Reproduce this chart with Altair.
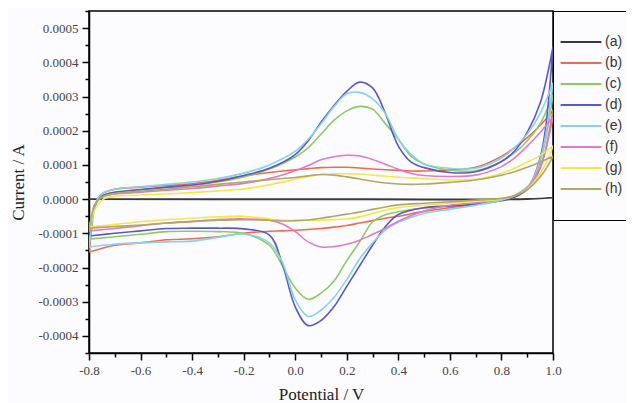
import altair as alt
import pandas as pd

# Potentials (V) of the forward (anodic) and reverse (cathodic) sweeps
X_FWD = [-0.80, -0.79, -0.78, -0.76, -0.74, -0.70, -0.60, -0.50, -0.40, -0.30,
         -0.20, -0.10, 0.00, 0.05, 0.10, 0.15, 0.20, 0.25, 0.30, 0.35,
         0.40, 0.45, 0.50, 0.60, 0.70, 0.80, 0.85, 0.90, 0.95, 1.00]
X_REV = [1.00, 0.97, 0.95, 0.92, 0.90, 0.85, 0.80, 0.70, 0.60, 0.50,
         0.40, 0.35, 0.30, 0.25, 0.20, 0.15, 0.10, 0.05, 0.00, -0.05,
         -0.10, -0.20, -0.30, -0.40, -0.50, -0.60, -0.70, -0.80]

# Currents in units of 1e-5 A
A_X_FWD = [-0.80, 0.00, 0.90, 1.00]
A_FWD = [0.0, 0.0, 0.1, 0.4]
A_X_REV = [1.00, 0.90, 0.00, -0.80]
A_REV = [0.4, 0.0, -0.1, 0.0]

B_FWD = [-15.5, -9.0, -3.0, 0.8, 2.0, 2.9, 3.5, 4.0, 4.5, 5.5,
         6.8, 7.8, 8.6, 8.9, 9.2, 9.3, 9.3, 9.1, 8.8, 8.6,
         8.4, 8.2, 8.2, 8.5, 9.3, 12.5, 15.0, 18.0, 21.5, 26.0]
B_REV = [26.0, 14.0, 9.0, 4.5, 2.8, 0.8, -0.3, -1.5, -2.5, -3.6,
         -5.0, -5.6, -6.3, -7.0, -7.7, -8.2, -8.6, -8.9, -9.1, -9.3,
         -9.4, -10.0, -11.0, -11.6, -11.9, -12.8, -13.5, -15.5]

C_FWD = [-11.7, -7.0, -2.5, 0.3, 1.3, 2.0, 2.7, 3.3, 4.0, 5.0,
         6.5, 8.8, 12.3, 15.0, 19.0, 23.0, 25.8, 27.1, 26.3, 22.0,
         17.5, 12.5, 10.2, 8.5, 8.3, 11.0, 13.5, 17.0, 22.0, 30.5]
C_REV = [30.5, 17.0, 11.0, 5.5, 3.5, 1.0, -0.3, -1.3, -2.0, -2.6,
         -3.7, -4.6, -6.7, -12.5, -18.0, -24.0, -27.5, -29.3, -26.0, -19.5,
         -13.5, -10.0, -9.5, -9.4, -9.5, -10.3, -11.0, -11.7]

D_FWD = [-10.8, -6.5, -2.5, 0.3, 1.3, 2.0, 2.8, 3.5, 4.1, 5.2,
         6.9, 9.0, 13.0, 17.0, 22.5, 27.3, 31.5, 34.2, 32.5, 25.0,
         15.5, 10.8, 9.2, 7.8, 8.0, 11.0, 14.0, 19.5, 28.0, 44.5]
D_REV = [44.5, 20.0, 12.0, 5.5, 3.0, 0.5, -0.5, -1.5, -2.0, -2.5,
         -4.5, -8.0, -13.5, -19.5, -25.5, -31.5, -35.5, -37.0, -31.5, -19.0,
         -10.5, -8.7, -8.5, -8.5, -8.6, -9.3, -10.0, -10.8]

E_FWD = [-14.0, -8.0, -2.5, 0.8, 2.0, 2.9, 3.6, 4.3, 5.0, 6.0,
         7.6, 10.0, 14.0, 17.5, 22.0, 27.0, 30.8, 31.2, 29.3, 25.0,
         17.5, 13.0, 10.3, 9.0, 9.0, 12.0, 15.0, 19.0, 25.0, 34.0]
E_REV = [34.0, 18.0, 11.5, 5.5, 3.5, 1.0, -0.3, -1.8, -3.0, -4.2,
         -6.8, -9.0, -12.8, -17.5, -23.5, -28.8, -32.5, -34.3, -29.5, -18.5,
         -12.8, -10.2, -11.2, -12.3, -12.5, -12.8, -13.2, -14.0]

F_FWD = [-9.3, -5.5, -2.0, 0.0, 0.9, 1.5, 2.0, 2.6, 3.1, 3.8,
         4.6, 6.0, 8.3, 9.8, 11.5, 12.4, 12.8, 12.6, 11.6, 10.2,
         8.7, 7.5, 6.9, 6.6, 7.0, 9.5, 12.0, 15.5, 19.5, 24.0]
F_REV = [24.0, 14.0, 9.5, 5.0, 3.2, 1.0, 0.0, -1.0, -1.8, -3.5,
         -6.5, -8.5, -10.3, -12.0, -13.2, -13.9, -14.0, -12.5, -9.5, -7.3,
         -6.2, -5.8, -6.0, -6.5, -7.0, -7.8, -8.6, -9.3]

G_FWD = [-8.2, -6.0, -3.5, -1.2, 0.2, 0.8, 1.2, 1.5, 1.9, 2.4,
         3.0, 4.2, 5.8, 6.6, 7.2, 7.4, 7.4, 7.3, 7.0, 6.7,
         6.4, 6.2, 6.0, 5.6, 5.8, 7.5, 9.0, 10.8, 12.8, 15.5]
G_REV = [15.5, 10.0, 7.5, 4.5, 3.0, 1.0, 0.0, -0.7, -1.2, -1.8,
         -2.5, -3.2, -4.2, -5.2, -5.8, -6.0, -6.1, -6.2, -6.3, -6.2,
         -5.8, -5.0, -5.2, -5.6, -6.0, -6.6, -7.4, -8.2]

H_FWD = [-8.5, -5.0, -2.0, 0.0, 0.9, 1.6, 2.3, 2.9, 3.6, 4.3,
         5.0, 5.7, 6.3, 6.8, 7.2, 7.0, 6.5, 5.9, 5.2, 4.7,
         4.4, 4.3, 4.4, 4.9, 5.6, 7.0, 8.0, 9.3, 10.8, 12.5]
H_REV = [12.5, 8.5, 6.5, 4.0, 2.8, 1.0, 0.2, -0.3, -0.8, -1.2,
         -1.7, -2.3, -3.0, -3.8, -4.4, -5.0, -5.6, -6.1, -6.3, -6.4,
         -6.2, -6.0, -6.2, -6.6, -7.0, -7.6, -8.0, -8.5]

SERIES = ["(a)", "(b)", "(c)", "(d)", "(e)", "(f)", "(g)", "(h)"]
COLORS = ["#3a3a3a", "#f2694e", "#8ccb62", "#5a58c6", "#86d2ea",
          "#e079c6", "#f3e74e", "#b0a866"]

X_TICKS = [-0.8, -0.7, -0.6, -0.5, -0.4, -0.3, -0.2, -0.1, 0.0, 0.1,
           0.2, 0.3, 0.4, 0.5, 0.6, 0.7, 0.8, 0.9, 1.0]
Y_TICKS = [-0.00045, -0.0004, -0.00035, -0.0003, -0.00025, -0.0002, -0.00015,
           -0.0001, -0.00005, 0.0, 0.00005, 0.0001, 0.00015, 0.0002, 0.00025,
           0.0003, 0.00035, 0.0004, 0.00045, 0.0005, 0.00055]

loops = [
    (A_X_FWD, A_FWD, A_X_REV, A_REV),
    (X_FWD, B_FWD, X_REV, B_REV),
    (X_FWD, C_FWD, X_REV, C_REV),
    (X_FWD, D_FWD, X_REV, D_REV),
    (X_FWD, E_FWD, X_REV, E_REV),
    (X_FWD, F_FWD, X_REV, F_REV),
    (X_FWD, G_FWD, X_REV, G_REV),
    (X_FWD, H_FWD, X_REV, H_REV),
]

rows = []
for name, (xf, yf, xr, yr) in zip(SERIES, loops):
    k = 0
    for x, y in list(zip(xf, yf)) + list(zip(xr, yr)):
        rows.append({"series": name, "k": k, "V": x, "I": y * 1e-5})
        k += 1
df = pd.DataFrame(rows)

x_minor = "round(datum.value*10) % 2 != 0"
y_minor = "round(datum.value*20000) % 2 != 0"

x_axis = alt.Axis(
    values=X_TICKS,
    title="Potential / V",
    labelExpr=f"{x_minor} ? '' : (datum.value < -1e-9 ? '-' + format(-datum.value, '.1f') : format(abs(datum.value), '.1f'))",
    tickSize={"condition": {"test": x_minor, "value": 4}, "value": 7},
    labelPadding=4,
    labelFlush=False,
    labelOverlap=False,
    labelFont="Liberation Serif",
    titleY=41,
    titleBaseline="middle",
    grid=False,
)
y_axis = alt.Axis(
    values=Y_TICKS,
    title="Current / A",
    labelExpr=f"{y_minor} ? '' : (datum.value < -1e-9 ? '-' + format(-datum.value, '.4f') : format(abs(datum.value), '.4f'))",
    tickSize={"condition": {"test": y_minor, "value": 4}, "value": 7},
    labelPadding=4,
    labelFlush=False,
    labelOverlap=False,
    labelFont="Liberation Serif",
    titleX=-71,
    titleBaseline="middle",
    grid=False,
)

legend = alt.Legend(
    orient="none",
    legendX=464,
    legendY=0,
    title=None,
    symbolType="M-3.4,0H3.4",
    symbolSize=144,
    symbolStrokeWidth=2,
    labelFont="Liberation Sans",
    labelFontSize=14,
    labelColor="#333333",
    padding=24,
    rowPadding=7,
    labelOffset=17,
    symbolOffset=-3,
    strokeColor="black",
)

chart = alt.Chart(df).mark_line(strokeWidth=1.6, clip=True, interpolate="catmull-rom").encode(
    x=alt.X("V:Q", scale=alt.Scale(domain=[-0.8, 1.0], nice=False, zero=False), axis=x_axis),
    y=alt.Y("I:Q", scale=alt.Scale(domain=[-0.00045, 0.00055], nice=False, zero=False), axis=y_axis),
    color=alt.Color("series:N", scale=alt.Scale(domain=SERIES, range=COLORS), legend=legend),
    order=alt.Order("k:Q"),
).properties(
    width=464,
    height=342,
    autosize=alt.AutoSizeParams(type="none"),
    padding={"left": 81, "top": 3, "right": 73, "bottom": 50},
).configure(
    background="#fcfcfe",
).configure_view(
    stroke="black",
    strokeWidth=1.5,
).configure_axis(
    domainColor="black",
    domainWidth=1.5,
    tickColor="black",
    tickWidth=1.5,
    labelFont="Liberation Serif",
    labelFontSize=13,
    labelColor="#444444",
    titleFont="Liberation Serif",
    titleFontSize=17,
    titleFontWeight="normal",
    titleColor="#222222",
)

chart.save("out.html", embed_options={"renderer": "svg", "actions": False})
